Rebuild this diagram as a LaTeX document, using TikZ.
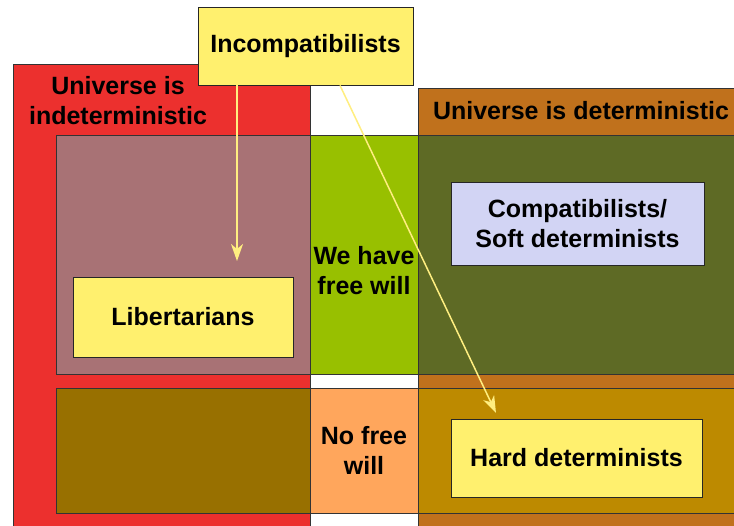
\documentclass[tikz,border=0pt]{standalone}
\usepackage{fontspec}
\setmainfont{Liberation Sans}
\usepackage{xcolor}
\usepackage{tikz}
\usetikzlibrary{arrows.meta}
\definecolor{indetred}{HTML}{EC302E}
\definecolor{detorange}{HTML}{C0711C}
\definecolor{libpink}{HTML}{A87275}
\definecolor{freegreen}{HTML}{98C000}
\definecolor{compolive}{HTML}{5E6A25}
\definecolor{lowbrown}{HTML}{987000}
\definecolor{nofreeorange}{HTML}{FFA65C}
\definecolor{hardgold}{HTML}{BD8A00}
\definecolor{boxyellow}{HTML}{FFF06E}
\definecolor{boxlavender}{HTML}{D2D4F4}
\definecolor{arrowyellow}{HTML}{FFEE80}
\tikzset{
  region/.style={draw=black!80, line width=0.9pt, anchor=north west, inner sep=0pt, outer sep=0pt},
  regionlabel/.style={font=\fontsize{25}{30}\selectfont\bfseries, align=center, inner sep=0pt},
  viewbox/.style={draw=black!85, line width=0.9pt, fill=boxyellow, align=center, inner sep=0pt, font=\fontsize{25}{30}\selectfont\bfseries},
  viewarrow/.style={-{Stealth[length=17pt, width=12pt, inset=5pt]}, draw=arrowyellow, line width=1.5pt}
}
\begin{document}
\begin{tikzpicture}[x=1pt, y=-1pt]
  \clip (0,0) rectangle (734,526);
  \fill[white] (0,0) rectangle (734,526);
  \node[region, fill=indetred, minimum width=297pt, minimum height=480pt] (indet) at (13,64) {};
  \node[region, fill=detorange, minimum width=340pt, minimum height=460pt] (det) at (418,88) {};
  \node[region, fill=libpink, minimum width=254pt, minimum height=239pt] (indetfree) at (56,135) {};
  \node[region, fill=freegreen, minimum width=108pt, minimum height=239pt] (free) at (310,135) {};
  \node[region, fill=compolive, minimum width=340pt, minimum height=239pt] (detfree) at (418,135) {};
  \node[region, fill=lowbrown, minimum width=254pt, minimum height=125pt] (indetnofree) at (56,388) {};
  \node[region, fill=nofreeorange, minimum width=108pt, minimum height=125pt] (nofree) at (310,388) {};
  \node[region, fill=hardgold, minimum width=340pt, minimum height=125pt] (detnofree) at (418,388) {};
  \node[regionlabel] (indetlabel) at (118,101) {Universe is\\indeterministic};
  \node[regionlabel] (detlabel) at (581,111) {Universe is deterministic};
  \node[regionlabel] (freelabel) at (364,271) {We have\\free will};
  \node[regionlabel] (nofreelabel) at (364,450) {No free\\will};
  \node[viewbox, minimum width=220pt, minimum height=80pt] (lib) at (183,317) {Libertarians};
  \node[viewbox, fill=boxlavender, minimum width=253pt, minimum height=83pt] (compat) at (577.5,223.5) {Compatibilists/\\Soft determinists};
  \node[viewbox, minimum width=251pt, minimum height=78pt] (hard) at (576.5,458) {Hard determinists};
  \node[viewbox, minimum width=215pt, minimum height=78pt] (incomp) at (305.5,46) {Incompatibilists};
  \coordinate (libtip) at (237,261);
  \coordinate (hardtip) at (496,413);
  \draw[viewarrow] (incomp.south -| libtip) -- (libtip);
  \draw[viewarrow] ([xshift=34.5pt]incomp.south) -- (hardtip);
\end{tikzpicture}
\end{document}
